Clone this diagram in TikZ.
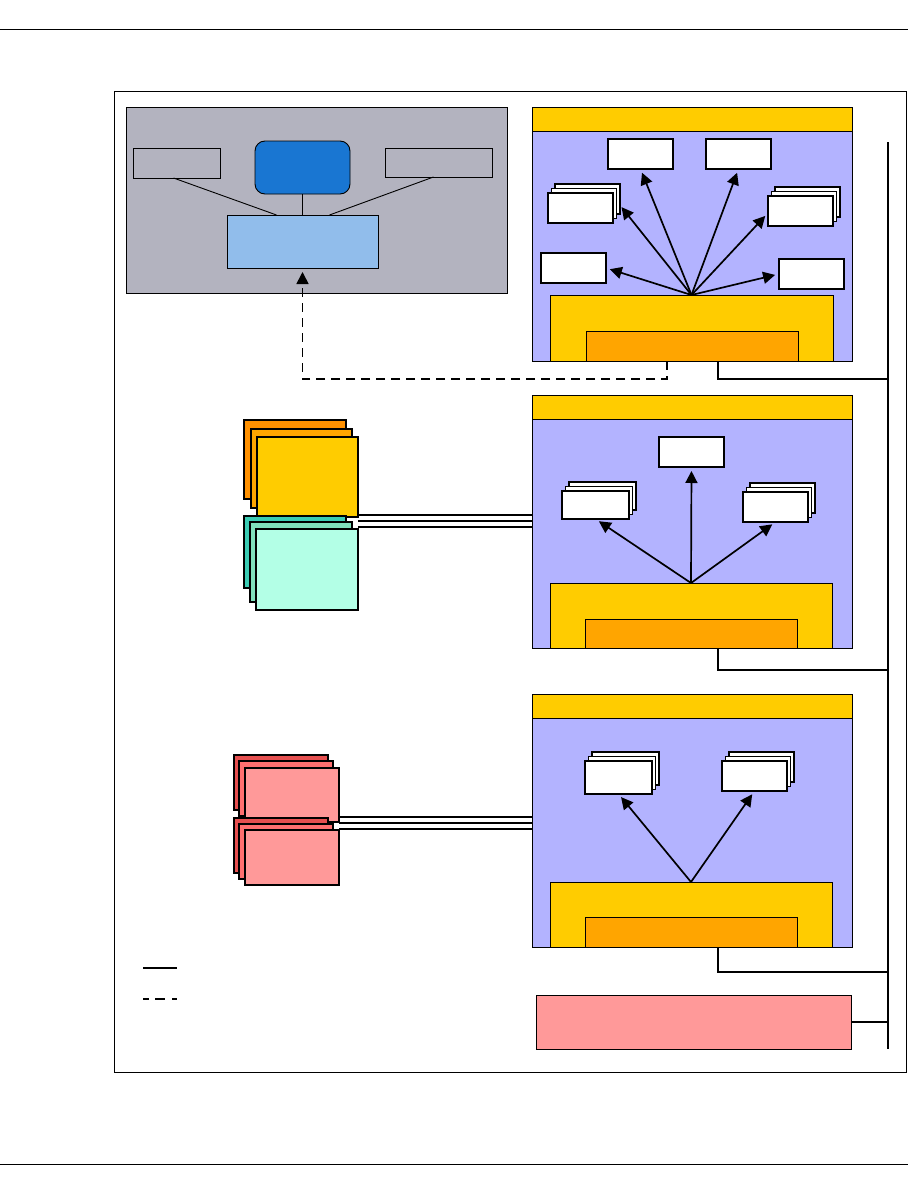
\documentclass[tikz,border=0pt]{standalone}
\usepackage{tikz}
\usetikzlibrary{arrows.meta,positioning,shadows,calc}
\definecolor{slategray}{HTML}{B3B3BF}
\definecolor{deepblue}{HTML}{1976D2}
\definecolor{skyblue}{HTML}{91BDEB}
\definecolor{lavender}{HTML}{B3B3FF}
\definecolor{gold}{HTML}{FFCC00}
\definecolor{amber}{HTML}{FFA500}
\definecolor{darkamber}{HTML}{FF9000}
\definecolor{salmon}{HTML}{FF9999}
\definecolor{coral}{HTML}{FF7070}
\definecolor{brick}{HTML}{E65050}
\definecolor{tealback}{HTML}{3CCCB4}
\definecolor{tealmid}{HTML}{80E0BC}
\definecolor{tealfront}{HTML}{B3FFE6}
\tikzset{
  plainbox/.style={
    draw=black, line width=0.9pt, inner sep=0pt, outer sep=0pt,
    anchor=north west
  },
  whitebox/.style={
    plainbox, fill=white, line width=1.7pt,
    minimum width=65pt, minimum height=30pt
  },
  stackbox/.style={
    whitebox,
    copy shadow={shadow xshift=7pt, shadow yshift=9pt,
      fill=white, draw=black, line width=1.7pt},
    copy shadow={shadow xshift=3.5pt, shadow yshift=4.5pt,
      fill=white, draw=black, line width=1.7pt}
  },
  layerbox/.style={plainbox, line width=1.1pt},
  pointer/.style={
    -{Triangle[length=12pt,width=12pt]}, line width=1.7pt,
    shorten >=4pt
  },
  link/.style={line width=0.9pt},
  rail/.style={line width=1.1pt},
  fatrail/.style={line width=2pt},
  bus/.style={line width=2.2pt},
  dashlink/.style={line width=2.2pt, dash pattern=on 9pt off 6pt}
}

\begin{document}
\begin{tikzpicture}[x=1pt,y=-1pt]
  \useasboundingbox (0,0) rectangle (908,1196);
  \draw[line width=1pt] (0,30) -- (908,30);
  \draw[line width=1pt] (0,1164) -- (908,1164);
  \node[plainbox, minimum width=792pt, minimum height=981pt] (frame) at (114,91) {};

  % front end
  \node[plainbox, fill=slategray, minimum width=381pt, minimum height=186pt] (desk) at (126,107) {};
  \node[plainbox, minimum width=87pt, minimum height=30pt] (lb) at (133,148) {};
  \node[plainbox, fill=deepblue, rounded corners=10pt,
        minimum width=95pt, minimum height=53pt] (app) at (255,141) {};
  \node[plainbox, minimum width=107pt, minimum height=29pt] (rb) at (385,148) {};
  \node[plainbox, fill=skyblue, minimum width=151pt, minimum height=53pt] (fe) at (227,215) {};
  \draw[link] ([xshift=-3pt]lb.south) -- ([xshift=-26pt]fe.north);
  \draw[link] (app.south) -- (fe.north);
  \draw[link] ([xshift=-5pt]rb.south) -- ([xshift=27pt]fe.north);

  % first window
  \node[plainbox, fill=lavender, minimum width=320pt, minimum height=254pt] (win1) at (532,107) {};
  \node[plainbox, fill=gold, minimum width=320pt, minimum height=24pt] (bar1) at (532,107) {};
  \node[plainbox, fill=gold, minimum width=283pt, minimum height=66pt] (host1) at (550,295) {};
  \node[plainbox, fill=amber, minimum width=212pt, minimum height=30pt] (core1) at (586,331) {};
  \node[whitebox] (ta) at (608,139) {};
  \node[whitebox] (tb) at (706,139) {};
  \node[stackbox] (sl) at (548,193) {};
  \node[stackbox] (sr) at (768,196) {};
  \node[whitebox] (ml) at (541,253) {};
  \node[whitebox] (mr) at (779,259) {};
  \foreach \t in {ta,tb} \draw[pointer] (host1.north) -- (\t.south);
  \draw[pointer] (host1.north) -- ([xshift=6pt,yshift=4pt]sl.east);
  \draw[pointer] (host1.north) -- ([yshift=-2pt]sr.west);
  \draw[pointer] (host1.north) -- (ml.east);
  \draw[pointer] (host1.north) -- (mr.west);

  % second window
  \node[plainbox, fill=lavender, minimum width=320pt, minimum height=253pt] (win2) at (532,395) {};
  \node[plainbox, fill=gold, minimum width=320pt, minimum height=24pt] (bar2) at (532,395) {};
  \node[plainbox, fill=gold, minimum width=282pt, minimum height=65pt] (host2) at (550,583) {};
  \node[plainbox, fill=amber, minimum width=212pt, minimum height=29pt] (core2) at (585,619) {};
  \node[whitebox] (tc) at (659,437) {};
  \node[stackbox, minimum width=67pt, minimum height=28pt] (sl2) at (562,491) {};
  \node[stackbox] (sr2) at (743,492) {};
  \foreach \t in {tc,sl2,sr2} \draw[pointer] (host2.north) -- (\t.south);

  % third window
  \node[plainbox, fill=lavender, minimum width=320pt, minimum height=253pt] (win3) at (532,694) {};
  \node[plainbox, fill=gold, minimum width=320pt, minimum height=24pt] (bar3) at (532,694) {};
  \node[plainbox, fill=gold, minimum width=282pt, minimum height=65pt] (host3) at (550,882) {};
  \node[plainbox, fill=amber, minimum width=212pt, minimum height=30pt] (core3) at (585,917) {};
  \node[stackbox, minimum width=67pt, minimum height=33pt] (sl3) at (585,761) {};
  \node[stackbox] (sr3) at (722,761) {};
  \foreach \t in {sl3,sr3} \draw[pointer] (host3.north) -- (\t.south);

  % stacked sources, middle
  \node[layerbox, fill=darkamber, minimum width=102pt, minimum height=79pt] (oa) at (244,420) {};
  \node[layerbox, fill=amber, minimum width=101pt, minimum height=79pt] (ob) at (251,429) {};
  \node[layerbox, fill=gold, minimum width=101pt, minimum height=80pt] (oc) at (257,437) {};
  \node[layerbox, fill=tealback, minimum width=102pt, minimum height=72pt] (ga) at (244,516) {};
  \node[layerbox, fill=tealmid, minimum width=102pt, minimum height=80pt] (gb) at (250,522) {};
  \node[layerbox, fill=tealfront, minimum width=102pt, minimum height=81pt] (gc) at (256,529) {};
  \foreach \dy in {2,-4,-10} {
    \coordinate (r) at ([yshift=\dy pt]oc.south east);
    \draw[rail] (r) -- (r -| win2.west);
  }

  % stacked sources, bottom
  \node[layerbox, fill=brick, minimum width=94pt, minimum height=55pt] (ra) at (234,755) {};
  \node[layerbox, fill=coral, minimum width=94pt, minimum height=55pt] (rb2) at (239,761) {};
  \node[layerbox, fill=salmon, minimum width=94pt, minimum height=54pt] (rc) at (245,768) {};
  \node[layerbox, fill=brick, minimum width=94pt, minimum height=55pt] (rd) at (234,818) {};
  \node[layerbox, fill=coral, minimum width=94pt, minimum height=55pt] (re) at (239,824) {};
  \node[layerbox, fill=salmon, minimum width=94pt, minimum height=55pt] (rf) at (245,830) {};
  \foreach \dy in {5,-1,-7} {
    \coordinate (r) at ([yshift=\dy pt]rc.south east);
    \draw[fatrail] (r) -- (r -| win3.west);
  }

  % store
  \node[plainbox, fill=salmon, minimum width=315pt, minimum height=54pt] (store) at (536,995) {};

  % bus
  \coordinate (bustop) at (888,142);
  \coordinate (busend) at (888,1049);
  \draw[bus] (bustop) -- (busend);
  \coordinate (tap1) at ([xshift=26pt]core1.south);
  \coordinate (tap2) at ([xshift=27pt]core2.south);
  \coordinate (tap3) at ([xshift=27pt]core3.south);
  \draw[bus] (tap1) |- ([yshift=-18pt]tap1 -| bustop);
  \draw[bus] (tap2) |- ([yshift=-22pt]tap2 -| bustop);
  \draw[bus] (tap3) |- ([yshift=-25pt]tap3 -| bustop);
  \draw[bus] (store.east) -- (store.east -| bustop);

  % dashed return path
  \coordinate (dashstart) at ([xshift=-25pt]core1.south);
  \draw[dashlink, pointer] (dashstart) -- ++(0,18) -| (fe.south);

  % legend
  \coordinate (legsolid) at (143,968);
  \coordinate (legdash) at (143,999);
  \draw[bus] (legsolid) -- ++(34,0);
  \draw[line width=2.2pt, dash pattern=on 6pt off 6pt on 10pt off 7pt on 6pt]
    (legdash) -- ++(34,0);
\end{tikzpicture}
\end{document}
